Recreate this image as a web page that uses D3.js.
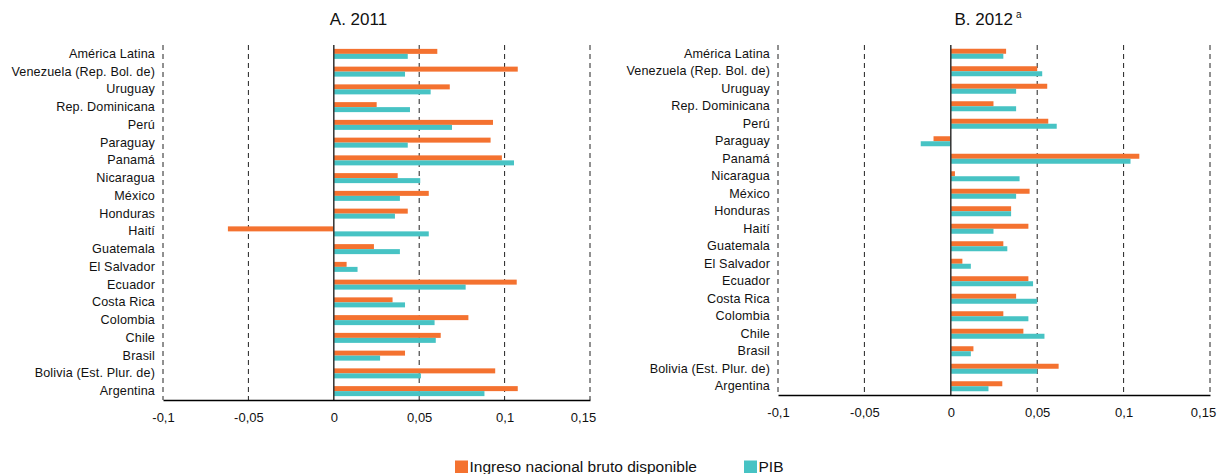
<!DOCTYPE html>
<html><head><meta charset="utf-8">
<script src="https://cdn.jsdelivr.net/npm/d3@7"></script>
<style>
body{margin:0;background:#fff}
svg{display:block;font-family:"Liberation Sans",Arial,sans-serif}
</style>
</head><body>
<svg id="chart" width="1222" height="474"></svg>
<script>
const categories = ["América Latina","Venezuela (Rep. Bol. de)","Uruguay","Rep. Dominicana","Perú","Paraguay","Panamá","Nicaragua","México","Honduras","Haití","Guatemala","El Salvador","Ecuador","Costa Rica","Colombia","Chile","Brasil","Bolivia (Est. Plur. de)","Argentina"];
const ingreso2011 = [0.0606,0.1077,0.0679,0.0251,0.0932,0.0918,0.0984,0.0374,0.0556,0.0433,-0.0620,0.0235,0.0075,0.1071,0.0344,0.0788,0.0626,0.0417,0.0945,0.1077];
const pib2011     = [0.0433,0.0417,0.0567,0.0446,0.0692,0.0433,0.1055,0.0506,0.0387,0.0358,0.0556,0.0387,0.0139,0.0772,0.0417,0.0590,0.0597,0.0271,0.0510,0.0882];
const ingreso2012 = [0.0320,0.0500,0.0558,0.0247,0.0564,-0.0100,0.1091,0.0024,0.0456,0.0349,0.0449,0.0304,0.0067,0.0449,0.0378,0.0304,0.0420,0.0131,0.0624,0.0298];
const pib2012     = [0.0304,0.0529,0.0378,0.0378,0.0613,-0.0174,0.1040,0.0398,0.0378,0.0349,0.0247,0.0327,0.0116,0.0476,0.0500,0.0449,0.0542,0.0116,0.0500,0.0218];
const xTicks = [-0.1,-0.05,0,0.05,0.1,0.15];
const xTickLabels = ["-0,1","-0,05","0","0,05","0,1","0,15"];
const seriesNames = ["Ingreso nacional bruto disponible","PIB"];
const colors = ["#F47230","#47C3C4"];

const svg = d3.select("#chart");

const panels = [
  {title:"A. 2011", sup:"", data:[ingreso2011,pib2011], x0:163, x1:590, y0:45, y1:400, tx:358.5},
  {title:"B. 2012", sup:"a", data:[ingreso2012,pib2012], x0:778, x1:1210, y0:45, y1:395, tx:988}
];

panels.forEach(p => {
  const g = svg.append("g");
  const x = d3.scaleLinear().domain([-0.1,0.15]).range([p.x0,p.x1]);
  const y = d3.scaleBand().domain(categories).range([p.y0,p.y1]).padding(0);
  const bh = 5;
  const sub = d3.scaleBand().domain([0,1]).range([y.bandwidth()/2-bh, y.bandwidth()/2+bh]);

  // gridlines (dashed), except zero
  g.append("g").selectAll("line").data(xTicks.filter(t => t !== 0)).join("line")
    .attr("x1", d => x(d)).attr("x2", d => x(d))
    .attr("y1", p.y0).attr("y2", p.y1)
    .attr("stroke", "#222").attr("stroke-width", 1)
    .attr("stroke-dasharray", "5,4");

  // bars
  p.data.forEach((vals, si) => {
    g.append("g").selectAll("rect").data(vals).join("rect")
      .attr("x", d => Math.min(x(0), x(d)))
      .attr("width", d => Math.abs(x(d) - x(0)))
      .attr("y", (d,i) => y(categories[i]) + sub(si))
      .attr("height", sub.bandwidth())
      .attr("fill", colors[si]);
  });

  // zero line
  g.append("line")
    .attr("x1", x(0)).attr("x2", x(0)).attr("y1", p.y0).attr("y2", p.y1)
    .attr("stroke", "#333").attr("stroke-width", 1.5);

  // x axis
  const xa = g.append("g").attr("transform", `translate(0,${p.y1})`)
    .call(d3.axisBottom(x).tickValues(xTicks).tickFormat((d,i) => xTickLabels[i]).tickSize(0).tickPadding(13));
  xa.select(".domain").attr("stroke", "#000").attr("stroke-width", 1.5);
  xa.selectAll("text").attr("font-size", 13).attr("fill", "#111")
    .attr("font-family", '"Liberation Sans",Arial,sans-serif')
    .attr("dx", (d,i) => i === xTicks.length - 1 ? -7 : 0);

  // y axis labels
  const ya = g.append("g").attr("transform", `translate(${p.x0},0)`)
    .call(d3.axisLeft(y).tickSize(0).tickPadding(8));
  ya.select(".domain").remove();
  ya.selectAll("text").attr("font-size", 12.6).attr("fill", "#111")
    .attr("letter-spacing", "0.15px")
    .attr("font-family", '"Liberation Sans",Arial,sans-serif');

  // title
  const t = g.append("text").attr("x", p.tx).attr("y", 24.5)
    .attr("text-anchor", "middle").attr("font-size", 17).attr("fill", "#111");
  t.append("tspan").text(p.title);
  if (p.sup) t.append("tspan").attr("font-size", 10).attr("dx", 3).attr("dy", -7).text(p.sup);
});

// legend
const legend = [
  {name: seriesNames[0], color: colors[0], x: 455},
  {name: seriesNames[1], color: colors[1], x: 744}
];
const lg = svg.append("g");
lg.selectAll("rect").data(legend).join("rect")
  .attr("x", d => d.x).attr("y", 460.5).attr("width", 13).attr("height", 12.5)
  .attr("fill", d => d.color);
lg.selectAll("text").data(legend).join("text")
  .attr("x", d => d.x + 14.5).attr("y", 472)
  .attr("font-size", 15.5).attr("fill", "#111")
  .text(d => d.name);
</script>
</body></html>
